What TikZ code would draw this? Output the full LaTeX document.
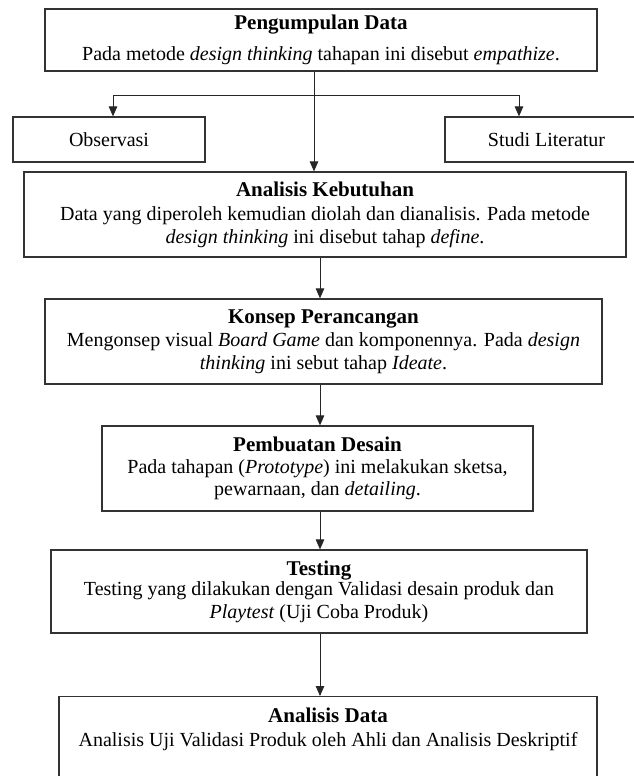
\documentclass[tikz,border=0pt]{standalone}
\usepackage{fontspec}
\setmainfont{Liberation Serif}
\usepackage{tikz}
\usetikzlibrary{arrows.meta}

\newcommand{\stagetitle}[1]{{\fontsize{21}{23}\selectfont\bfseries #1}}

\begin{document}
\begin{tikzpicture}
		[x=1pt,y=-1pt,
		%Styles
		stage/.style={draw=black!80,line width=1.2pt,fill=white,align=center,inner sep=2pt,
			font=\fontsize{20}{22.5}\selectfont},
		side/.style={stage,minimum height=45pt},
		flow/.style={draw=black!85,line width=0.9pt,-{Triangle[length=10pt,width=8.5pt]}}
		]
		
		\clip (0,0) rectangle (634,776);
		\fill[white] (0,0) rectangle (634,776);
		
		%The graphic
		\node[stage,minimum width=552pt,minimum height=62pt] (kumpul) at (321,40)
			{\stagetitle{Pengumpulan Data}\\[8pt]
			Pada metode \textit{design thinking} tahapan ini disebut \textit{empathize}.};
		\node[side,minimum width=192pt] (obs) at (109,139.5) {Observasi};
		\node[side,minimum width=203pt] (studi) at (546.5,139.5) {Studi Literatur};
		\node[stage,minimum width=602pt,minimum height=85pt] (analisis) at (325,214.5)
			{\stagetitle{Analisis Kebutuhan}\\[2pt]
			Data yang diperoleh kemudian diolah dan dianalisis. Pada metode\\
			\textit{design thinking} ini disebut tahap \textit{define}.};
		\node[stage,minimum width=557pt,minimum height=85pt] (konsep) at (323.5,341.5)
			{\stagetitle{Konsep Perancangan}\\[1pt]
			Mengonsep visual \textit{Board Game} dan komponennya. Pada \textit{design}\\
			\textit{thinking} ini sebut tahap \textit{Ideate}.};
		\node[stage,minimum width=431pt,minimum height=85pt] (buat) at (317.5,468.5)
			{\stagetitle{Pembuatan Desain}\\[-1pt]
			Pada tahapan (\textit{Prototype}) ini melakukan sketsa,\\
			pewarnaan, dan \textit{detailing}.};
		\node[stage,minimum width=536pt,minimum height=83pt] (testing) at (319,591.5)
			{\stagetitle{Testing}\\[-2pt]
			Testing yang dilakukan dengan Validasi desain produk dan\\
			\textit{Playtest} (Uji Coba Produk)};
		\node[stage,anchor=north,minimum width=538pt,inner ysep=11pt] (data) at (328,696)
			{\stagetitle{Analisis Data}\\[2pt]
			Analisis Uji Validasi Produk oleh Ahli dan Analisis Deskriptif\\[6pt]
			\mbox{}\\ \mbox{}};
		
		\coordinate (spine) at (314,95);
		\coordinate (axis) at (320,0);
		
		\draw[flow] (kumpul.south -| spine) -- (analisis.north -| spine);
		\draw[flow] (spine) -| (obs.north -| 113,0);
		\draw[flow] (spine) -| (studi.north -| 519,0);
		
		\draw[flow] (analisis.south -| axis) -- (konsep.north -| axis);
		\draw[flow] (konsep.south -| axis) -- (buat.north -| axis);
		\draw[flow] (buat.south -| axis) -- (testing.north -| axis);
		\draw[flow] (testing.south -| axis) -- (data.north -| axis);
	\end{tikzpicture}
\end{document}
